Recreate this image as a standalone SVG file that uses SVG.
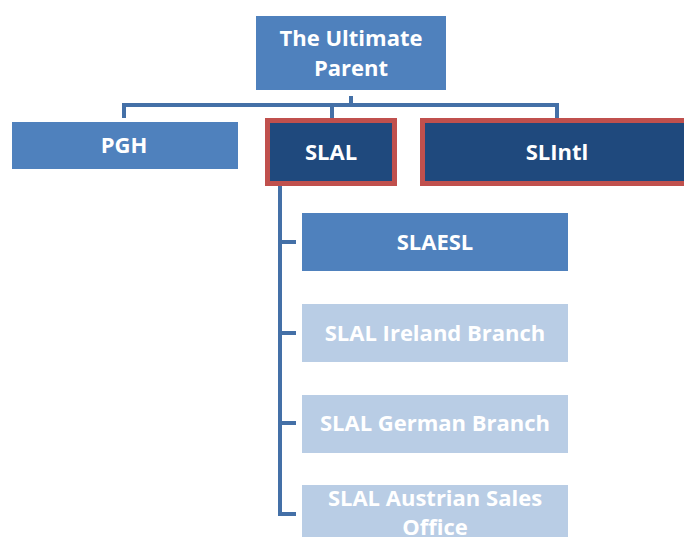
<svg xmlns="http://www.w3.org/2000/svg" width="684" height="537" viewBox="0 0 684 537">
  <style>
    .mid { fill: #4F81BD; }
    .dark { fill: #1F497D; stroke: #C0504D; stroke-width: 5; }
    .light { fill: #B9CDE5; }
    .lbl { font-family: "Open Sans", "Liberation Sans", sans-serif; font-weight: bold; font-size: 22px; fill: #FFFFFF; text-anchor: middle; }
    .conn { fill: none; stroke: #4470A7; stroke-width: 4; stroke-linejoin: miter; }
  </style>
  <rect width="684" height="537" fill="#FFFFFF"/>

  <!-- connectors -->
  <g id="connectors">
    <path class="conn" d="M351 96 V105"/>
    <path class="conn" d="M124 118 V105 H557 V118"/>
    <path class="conn" d="M332 105 V118"/>
    <path class="conn" d="M280 186 V514 H296"/>
    <path class="conn" d="M280 242 H296"/>
    <path class="conn" d="M280 333 H296"/>
    <path class="conn" d="M280 423 H296"/>
  </g>

  <g id="ultimate-parent">
    <rect class="mid" x="256" y="16" width="190" height="74"/>
    <text class="lbl" x="351" y="46">The Ultimate</text>
    <text class="lbl" x="351" y="76">Parent</text>
  </g>

  <g id="pgh">
    <rect class="mid" x="12" y="122" width="226" height="47"/>
    <text class="lbl" x="124" y="153">PGH</text>
  </g>

  <g id="slal">
    <rect class="dark" x="267.5" y="120.5" width="127" height="63"/>
    <text class="lbl" x="331" y="160">SLAL</text>
  </g>

  <g id="slintl">
    <rect class="dark" x="422.5" y="120.5" width="270" height="63"/>
    <text class="lbl" x="557" y="160">SLIntl</text>
  </g>

  <g id="slaesl">
    <rect class="mid" x="302" y="213" width="266" height="58"/>
    <text class="lbl" x="435" y="250">SLAESL</text>
  </g>

  <g id="slal-ireland">
    <rect class="light" x="302" y="304" width="266" height="58"/>
    <text class="lbl" x="435" y="341">SLAL Ireland Branch</text>
  </g>

  <g id="slal-german">
    <rect class="light" x="302" y="395" width="266" height="58"/>
    <text class="lbl" x="435" y="431">SLAL German Branch</text>
  </g>

  <g id="slal-austrian">
    <rect class="light" x="302" y="485" width="266" height="58"/>
    <text class="lbl" x="435" y="506">SLAL Austrian Sales</text>
    <text class="lbl" x="435" y="535">Office</text>
  </g>
</svg>
